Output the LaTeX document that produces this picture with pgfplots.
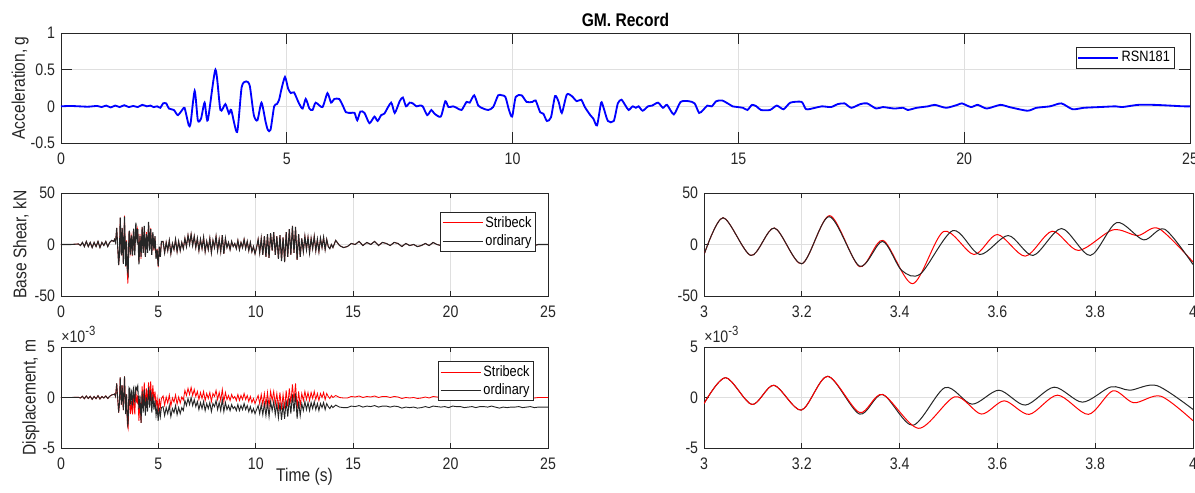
\documentclass[border=0pt]{standalone}
\usepackage{fontspec}
\setmainfont{Liberation Sans}[FakeStretch=0.85]
\usepackage{pgfplots}
\usepackage{pgfplotstable}
\pgfplotsset{compat=1.18}

\definecolor{axgray}{RGB}{38,38,38}
\definecolor{gridgray}{RGB}{223,223,223}

% ground motion record, acceleration in g
\pgfplotstableread{
t a
0.0 0
0.2 0.005
0.4 0
0.6 -0.005
0.8 0.005
0.9 -0.01
1.0 0.01
1.1 -0.015
1.2 0.01
1.3 -0.01
1.4 0.015
1.5 -0.01
1.6 0.005
1.7 -0.01
1.8 0.02
1.9 0.0
1.98 0.01
2.05 -0.01
2.13 0.0
2.2 -0.02
2.26 0.04
2.33 0.04
2.39 -0.03
2.5 -0.05
2.59 -0.12
2.72 -0.02
2.75 -0.05
2.83 -0.26
2.87 -0.23
2.96 0.21
3.03 -0.19
3.1 -0.17
3.18 0.05
3.25 -0.19
3.42 0.5
3.53 -0.05
3.64 0.03
3.72 -0.1
3.77 -0.05
3.9 -0.35
4.0 0.26
4.1 0.34
4.18 0.28
4.27 -0.12
4.35 -0.19
4.44 0.05
4.53 -0.21
4.58 -0.32
4.64 -0.32
4.72 0
4.78 0.03
4.83 0.09
4.88 0.23
4.96 0.4
5.03 0.24
5.09 0.18
5.16 0.19
5.27 0.04
5.35 -0.03
5.42 0.1
5.5 -0.03
5.57 -0.05
5.64 0.05
5.79 -0.01
5.9 0.18
5.98 0.05
6.05 0.1
6.16 0.1
6.24 0.01
6.31 -0.08
6.42 -0.09
6.5 -0.09
6.56 -0.19
6.63 -0.07
6.72 -0.09
6.83 -0.23
6.94 -0.14
7.01 -0.2
7.09 -0.12
7.16 -0.1
7.31 0.05
7.39 -0.09
7.5 0.07
7.57 0.12
7.64 0
7.72 0.05
7.79 0.04
7.87 0
7.94 0.01
8.01 0
8.11 -0.12
8.2 -0.05
8.27 -0.1
8.41 -0.14
8.51 0.07
8.58 -0.01
8.68 0
8.76 -0.02
8.87 -0.05
8.98 0.06
9.05 0.05
9.15 0.15
9.24 0.01
9.35 -0.03
9.46 -0.05
9.57 -0.01
9.68 0.15
9.76 0.15
9.84 0.13
9.92 -0.05
9.99 -0.14
10.07 0.13
10.2 0.15
10.31 0.06
10.44 0.06
10.51 0.08
10.61 -0.08
10.68 -0.1
10.76 -0.2
10.85 -0.15
10.94 0.14
11.02 0.06
11.09 -0.09
11.2 0.16
11.31 0.14
11.42 0.07
11.52 0.09
11.6 -0.01
11.72 -0.12
11.79 -0.17
11.87 -0.26
11.96 0.05
12.01 -0.01
12.11 -0.2
12.24 -0.2
12.33 0.04
12.41 0.09
12.5 0.01
12.57 -0.05
12.66 0
12.73 -0.02
12.79 0
12.88 -0.06
13.0 0
13.09 0.01
13.22 0.05
13.33 -0.02
13.42 0.02
13.57 -0.11
13.72 0.06
13.9 0.07
14.03 0.04
14.13 -0.09
14.22 -0.05
14.31 0.01
14.41 0
14.51 0.07
14.64 0.08
14.79 0.03
14.87 0
15.1 -0.02
15.2 -0.05
15.3 0.02
15.4 0
15.5 -0.05
15.7 -0.05
15.85 0.01
16.0 -0.04
16.15 0.05
16.4 0.06
16.5 -0.04
16.7 -0.02
16.85 0
17.05 -0.01
17.2 0.03
17.35 0.04
17.5 -0.02
17.7 0.03
17.85 0.04
18.05 -0.03
18.2 -0.01
18.45 -0.03
18.65 -0.02
18.75 -0.05
18.95 -0.02
19.2 0
19.35 0.02
19.6 -0.02
19.85 0.02
19.95 0.04
20.15 -0.01
20.3 0.02
20.5 -0.03
20.8 0.02
21.0 -0.01
21.4 -0.06
21.6 -0.02
21.9 0
22.15 0.04
22.4 -0.04
22.65 -0.02
23.0 -0.01
23.35 0
23.5 -0.01
23.85 0.02
24.2 0.02
24.55 0.01
24.85 0
25.0 0
}\accdata

% base shear (kN) and displacement (x1e-3 m), ordinary (k) and Stribeck (s)
\pgfplotstableread{
t Fk Fs Dk Ds
0.0 0 0 0 0
0.5 0 0 0 0
0.9 0.5 0.5 0.02 0.02
1.0 -1 -1 -0.05 -0.05
1.1 2 2 0.12 0.12
1.2 -2 -2 -0.12 -0.12
1.3 3 3 0.15 0.15
1.4 -2 -2 -0.1 -0.1
1.5 2 2 0.12 0.12
1.6 -3 -3 -0.18 -0.18
1.7 2 2 0.1 0.1
1.8 -2 -2 -0.12 -0.12
1.9 3 3 0.18 0.18
2.0 -3 -3 -0.15 -0.15
2.1 2 2 0.1 0.1
2.2 -1 -1 -0.05 -0.05
2.3 3 3 0.15 0.15
2.4 -2 -2 -0.1 -0.1
2.5 2 2 0.12 0.12
2.6 4 4 0.25 0.25
2.7 3 3 0.3 0.3
2.75 5 5 0.35 0.35
2.8 2 2 0.1 0.1
2.86 16 16 1.4 1.4
2.96 -20 -20 -1.5 -1.5
3.00 -10 -10 -0.6 -0.6
3.04 26 26 2.0 2.0
3.10 -10.6 -10.6 -0.7 -0.7
3.14 16 16 1.2 1.2
3.20 -18.7 -18.7 -1.25 -1.25
3.26 27 28 2.1 2.1
3.32 -21 -21.5 -1.64 -1.48
3.365 3 4 0.3 0.3
3.405 -25 -30 -2.2 -2.6
3.43 -27 -38 -2.75 -2.9
3.445 -28.4 -35 -2.6 -3.05
3.49 10 12.6 0.98 -0.3
3.51 13.5 10 0.9 0.07
3.55 -5 -9.7 -0.66 -1.2
3.565 -9.7 -8 -0.6 -1.64
3.60 5 9.7 0.72 -0.8
3.62 8.7 8 0.6 -0.33
3.657 -5 -11.3 -0.75 -1.4
3.673 -10.6 -9 -0.6 -1.67
3.712 8 12.9 0.9 0.0
3.731 15.5 10 1.0 0.23
3.766 -3 -5.8 -0.3 -1.2
3.79 -10.6 -4 -0.46 -1.67
3.836 18 14.2 1.0 0.66
3.844 21.3 14 1.05 0.6
3.887 6 8.7 0.75 -0.5
3.899 4.5 9 0.72 -0.52
3.93 12 15.5 1.1 0.13
3.942 14.8 14 1.18 0.1
4.00 -19.4 -17 -1.18 -2.3
4.055 8 10 0.2 -0.4
4.11 -12 -14 -2.5 -2.5
4.165 17 17 0.6 1.1
4.22 -8 -6 -1.5 -0.7
4.275 18 16 0.8 1.5
4.33 -12 -12 -1.8 -0.9
4.385 10 12 0.0 0.9
4.44 -8 -6 -1.4 -0.5
4.495 22 21 1.0 1.5
4.55 -6 -4 -1.0 -0.1
4.605 15 16 0.7 1.6
4.66 -10 -8 -1.5 -0.6
4.715 12 10 0.3 1.2
4.77 -5 -6 -1.2 -0.3
4.825 8 7 -0.3 0.6
4.88 -14 -12 -1.8 -0.9
4.935 -5 -4 -1.0 -0.1
4.99 -21 -22 -2.3 -1.5
5.045 -2 -3 -1.0 -0.1
5.10 -12 -12 -1.9 -1.0
5.155 3 2 -1.0 -0.1
5.24 3 3 -0.9 0.15
5.32 -8 -8 -1.8 -0.75
5.40 2 2 -1.0 0.05
5.48 -6 -6 -1.6 -0.55
5.56 4 4 -0.8 0.25
5.64 -9 -9 -1.9 -0.85
5.72 1 1 -1.1 -0.05
5.80 -5 -5 -1.5 -0.45
5.88 5 5 -0.8 0.25
5.96 -7 -7 -1.7 -0.65
6.04 3 3 -1.0 0.05
6.12 -6 -6 -1.6 -0.55
6.20 2 2 -1.0 0.05
6.28 -4 -4 -1.3 -0.25
6.36 6 6 -0.3 0.7
6.44 -2 -2 -0.8 0.2
6.52 9 9 -0.1 0.9
6.60 0 0 -0.7 0.3
6.68 10 10 0.0 1.0
6.76 -1 -1 -0.8 0.2
6.84 8 8 -0.2 0.8
6.92 -3 -3 -0.9 0.1
7.00 6 6 -0.4 0.6
7.08 -6 -6 -1.2 -0.2
7.16 5 5 -0.5 0.5
7.24 -4 -4 -1.1 -0.1
7.32 7 7 -0.4 0.6
7.40 -7 -7 -1.3 -0.3
7.48 3 3 -0.6 0.4
7.56 -5 -5 -1.1 -0.1
7.64 6 6 -0.5 0.5
7.72 -8 -8 -1.4 -0.4
7.80 4 4 -0.6 0.4
7.88 -3 -3 -0.9 0.1
7.96 8 8 -0.3 0.7
8.04 -6 -6 -1.2 -0.2
8.12 5 5 -0.5 0.5
8.20 -7 -7 -1.3 -0.3
8.28 9 9 -0.2 0.8
8.36 -9 -9 -1.4 -0.4
8.44 6 6 -0.5 0.5
8.52 -3 -3 -1.2 -0.2
8.60 2 2 -0.8 0.2
8.68 -5 -5 -1.3 -0.3
8.76 3 3 -0.7 0.3
8.84 -2 -2 -1.1 -0.1
8.92 1 1 -0.9 0.1
9.00 -4 -4 -1.3 -0.3
9.08 4 4 -0.7 0.3
9.16 -5 -5 -1.3 -0.3
9.24 2 2 -0.8 0.2
9.32 -3 -3 -1.2 -0.2
9.40 5 5 -0.6 0.4
9.48 -4 -4 -1.2 -0.2
9.56 3 3 -0.8 0.2
9.64 -6 -6 -1.4 -0.4
9.72 2 2 -0.9 0.1
9.80 -7 -7 -1.5 -0.5
9.88 -2 -2 -1.1 -0.1
9.96 -9 -9 -1.6 -0.6
10.04 -3 -3 -1.2 -0.2
10.12 5 5 -0.8 0.2
10.20 -8 -8 -1.6 -0.6
10.28 6 6 -0.7 0.3
10.36 -10 -10 -1.7 -0.7
10.44 8 8 -0.6 0.4
10.52 -12 -12 -1.8 -0.8
10.60 10 10 -0.5 0.5
10.68 -13 -13 -1.9 -0.9
10.76 11 11 -0.4 0.6
10.84 -6 -6 -1.3 -0.3
10.92 12 12 -0.4 0.6
11.00 -10 -10 -1.7 -0.7
11.08 8 8 -0.6 0.4
11.16 -14 -14 -2.0 -1.0
11.24 9 9 -0.5 0.5
11.32 -16 -16 -2.2 -1.2
11.40 7 7 -0.7 0.3
11.48 -17 -17 -2.1 -1.1
11.56 12 12 -0.3 0.7
11.64 -12 -12 -1.9 -0.9
11.72 15 15 -0.1 0.9
11.80 -10 -10 -1.6 -0.6
11.88 18 18 0.3 1.3
11.96 -8 -8 -1.4 -0.4
12.04 17 17 0.4 1.4
12.12 -15 -15 -2.1 -1.1
12.20 10 10 -0.4 0.6
12.28 -12 -12 -1.8 -0.8
12.36 6 6 -0.6 0.4
12.44 -7 -7 -1.3 -0.3
12.52 8 8 -0.4 0.6
12.60 -5 -5 -1.2 -0.2
12.68 7 7 -0.5 0.5
12.76 -8 -8 -1.3 -0.3
12.84 6 6 -0.5 0.5
12.92 -4 -4 -1.1 -0.1
13.00 8 8 -0.4 0.6
13.08 -6 -6 -1.2 -0.2
13.16 5 5 -0.6 0.4
13.24 -7 -7 -1.3 -0.3
13.32 6 6 -0.6 0.4
13.40 -3 -3 -1.0 0.0
13.48 7 7 -0.5 0.5
13.56 -5 -5 -1.2 -0.2
13.64 5 5 -0.6 0.4
13.72 -2 -2 -0.9 0.1
13.80 -4 -4 -1.1 -0.1
13.88 0 0 -0.8 0.2
13.96 -3 -3 -1.0 0.0
14.1 4 4 -0.75 0.2
14.3 -1 -1 -0.95 0.0
14.5 -3 -3 -1.0 -0.05
14.7 -2 -2 -1.0 -0.05
14.9 1 1 -0.85 0.1
15.1 0 0 -0.9 0.05
15.3 3 3 -0.8 0.15
15.5 -1 -1 -0.95 0.0
15.7 2 2 -0.85 0.1
15.9 0 0 -0.9 0.05
16.1 3 3 -0.8 0.15
16.3 -1 -1 -0.95 0.0
16.5 2 2 -0.85 0.1
16.7 1 1 -0.85 0.1
16.9 -1 -1 -0.95 0.0
17.1 2 2 -0.85 0.1
17.3 1 1 -0.9 0.05
17.5 -2 -2 -1.05 -0.1
17.7 1 1 -0.95 0.0
17.9 -1 -1 -1.0 -0.05
18.1 0 0 -0.95 0.0
18.3 -2 -2 -1.05 -0.1
18.5 -1 -1 -1.0 -0.05
18.7 1 1 -0.9 0.05
18.9 -1 -1 -1.0 -0.05
19.1 2 2 -0.85 0.1
19.3 0 0 -0.9 0.05
19.5 -1 -1 -0.95 0.0
19.7 1 1 -0.9 0.05
19.9 -1 -1 -1.0 -0.05
20.1 2 2 -0.85 0.1
20.3 0 0 -0.9 0.05
20.5 1 1 -0.9 0.05
20.7 -1 -1 -1.0 -0.05
20.9 0 0 -0.95 0.0
21.1 1 1 -0.9 0.05
21.3 -1 -1 -1.0 -0.05
21.5 1 1 -0.9 0.05
21.7 0 0 -0.9 0.05
21.9 -1 -1 -0.95 0.0
22.1 1 1 -0.85 0.1
22.3 -1 -1 -0.95 0.0
22.5 -2 -2 -1.05 -0.1
22.7 0 0 -0.95 0.0
22.9 -1 -1 -1.0 -0.05
23.1 1 1 -0.95 0.0
23.3 0 0 -0.95 0.0
23.5 1 1 -0.9 0.05
23.7 -1 -1 -1.0 -0.05
23.9 0 0 -0.95 0.0
24.1 1 1 -0.9 0.05
24.3 -1 -1 -1.0 -0.05
24.5 0 0 -0.95 0.0
24.7 0 0 -0.95 0.0
25.0 0 0 -0.95 0.0
}\leftdata

\pgfplotsset{
  matlab/.style={
    scale only axis,
    clip mode=individual,
    axis line style={axgray, line width=0.5pt},
    tick style={axgray, line width=0.5pt},
    tick align=inside,
    tick pos=both,
    grid=major,
    major grid style={gridgray, line width=0.5pt},
    tick label style={font=\fontsize{10}{12}\selectfont, text=axgray},
    label style={font=\fontsize{11}{13}\selectfont, text=axgray},
    /pgf/number format/assume math mode=true,
    xticklabel style={yshift=-2.6pt},
    legend cell align=left,
    legend style={draw=axgray, line width=0.4pt, fill=white,
      font=\fontsize{9}{10}\selectfont, inner sep=1pt,
      nodes={inner sep=1.4pt}},
  },
  redleg/.style={legend image code/.code={\draw[red, line width=0.6pt] (0pt,0pt) -- (24pt,0pt);}},
  blkleg/.style={legend image code/.code={\draw[black!85, line width=0.6pt] (0pt,0pt) -- (24pt,0pt);}},
  blueleg/.style={legend image code/.code={\draw[blue, line width=1.1pt] (0pt,0pt) -- (24pt,0pt);}},
}

\begin{document}
\begin{tikzpicture}
\useasboundingbox (0,0) rectangle (717pt,-295.8pt);

% ---- acceleration record ----
\begin{axis}[matlab, at={(36.6pt,-19.8pt)}, anchor=north west,
  width=677.4pt, height=66pt,
  xmin=0, xmax=25, ymin=-0.5, ymax=1,
  xtick={0,5,...,25}, ytick={-0.5,0,0.5,1}, yticklabels={-0.5,0,0.5,1},
  major tick length=6.6pt,
  ylabel={Acceleration, g},
  ylabel style={at={(axis description cs:-0.0363,0.5)}, anchor=center},
  title={GM. Record},
  title style={font=\bfseries\fontsize{11}{13}\selectfont, text=black,
    at={(axis description cs:0.5,1)}, anchor=base, yshift=-2pt},
  legend style={at={(axis description cs:0.986,0.873)}, anchor=north east}]
\addplot[blue, line width=1.1pt, smooth, tension=0.4, blueleg] table[x=t, y=a] {\accdata};
\legend{RSN181}
\end{axis}

% ---- base shear, full record ----
\begin{axis}[matlab, at={(36.6pt,-115.8pt)}, anchor=north west,
  width=292.2pt, height=61.8pt,
  xmin=0, xmax=25, ymin=-50, ymax=50,
  xtick={0,5,...,25}, ytick={-50,0,50},
  major tick length=2.9pt,
  ylabel={Base Shear, kN},
  ylabel style={at={(axis description cs:-0.0821,0.5)}, anchor=center},
  legend style={at={(axis description cs:0.975,0.816)}, anchor=north east}]
\addplot[red, line width=0.4pt, redleg] table[x=t, y=Fs] {\leftdata};
\addplot[black!85, line width=0.65pt, blkleg] table[x=t, y=Fk] {\leftdata};
\legend{Stribeck, ordinary}
\end{axis}

% ---- base shear, 3-4 s ----
\begin{axis}[matlab, at={(422.4pt,-115.8pt)}, anchor=north west,
  width=293.4pt, height=61.8pt,
  xmin=3, xmax=4, ymin=-50, ymax=50,
  xtick={3,3.2,3.4,3.6,3.8,4}, xticklabels={3,3.2,3.4,3.6,3.8,4},
  ytick={-50,0,50},
  major tick length=2.9pt]
\addplot[red, line width=0.6pt, smooth] coordinates {
(3.0,-10) (3.039,26) (3.096,-10.6) (3.144,16) (3.2,-18.7) (3.257,28)
(3.318,-21.5) (3.366,4) (3.427,-38) (3.49,12.6) (3.552,-9.7) (3.6,9.7)
(3.657,-11.3) (3.712,12.9) (3.766,-5.8) (3.836,14.2) (3.887,8.7)
(3.93,15.5) (4.0,-17)};
\addplot[black!85, line width=0.6pt, smooth] coordinates {
(3.0,-10) (3.039,26) (3.096,-10.6) (3.144,16) (3.2,-18.7) (3.256,27)
(3.318,-21) (3.365,3) (3.404,-25) (3.443,-28.4) (3.509,13.5) (3.564,-9.7)
(3.622,8.7) (3.673,-10.6) (3.731,15.5) (3.79,-10.6) (3.844,21.3)
(3.899,4.5) (3.942,14.8) (4.0,-19.4)};
\end{axis}

% ---- displacement, full record ----
\begin{axis}[matlab, at={(36.6pt,-208.2pt)}, anchor=north west,
  width=292.2pt, height=60.6pt,
  xmin=0, xmax=25, ymin=-5, ymax=5,
  xtick={0,5,...,25}, ytick={-5,0,5},
  major tick length=2.9pt,
  xlabel={Time (s)},
  xlabel style={at={(axis description cs:0.5,-0.287)}, anchor=center},
  ylabel={Displacement, m},
  ylabel style={at={(axis description cs:-0.0616,0.5)}, anchor=center},
  legend style={at={(axis description cs:0.971,0.861)}, anchor=north east}]
\addplot[red, line width=0.5pt, redleg] table[x=t, y=Ds] {\leftdata};
\addplot[black!85, line width=0.55pt, blkleg] table[x=t, y=Dk] {\leftdata};
\legend{Stribeck, ordinary}
\node[anchor=south west, inner sep=0pt, text=axgray,
  font=\fontsize{10}{12}\selectfont] at (axis description cs:0,1)
  [yshift=2.4pt] {×10\raisebox{0.75ex}{\fontsize{8}{8}\selectfont -3}};
\end{axis}

% ---- displacement, 3-4 s ----
\begin{axis}[matlab, at={(422.4pt,-208.2pt)}, anchor=north west,
  width=293.4pt, height=60.6pt,
  xmin=3, xmax=4, ymin=-5, ymax=5,
  xtick={3,3.2,3.4,3.6,3.8,4}, xticklabels={3,3.2,3.4,3.6,3.8,4},
  ytick={-5,0,5},
  major tick length=2.9pt]
\addplot[black!85, line width=0.6pt, smooth] coordinates {
(3.0,-0.6) (3.044,1.97) (3.098,-0.69) (3.143,1.21) (3.199,-1.25) (3.253,2.1)
(3.318,-1.64) (3.365,0.3) (3.427,-2.75) (3.493,0.98) (3.548,-0.66)
(3.603,0.72) (3.657,-0.75) (3.716,1.02) (3.774,-0.46) (3.832,1.05)
(3.871,0.72) (3.926,1.18) (4.0,-1.18)};
\addplot[red, line width=0.6pt, smooth] coordinates {
(3.0,-0.6) (3.044,1.97) (3.098,-0.69) (3.143,1.21) (3.199,-1.25) (3.253,2.1)
(3.318,-1.48) (3.365,0.3) (3.439,-3.05) (3.513,0.07) (3.567,-1.64)
(3.614,-0.33) (3.665,-1.67) (3.723,0.23) (3.786,-1.67) (3.836,0.66)
(3.879,-0.52) (3.934,0.13) (4.0,-2.3)};
\node[anchor=south west, inner sep=0pt, text=axgray,
  font=\fontsize{10}{12}\selectfont] at (axis description cs:0,1)
  [yshift=2.4pt] {×10\raisebox{0.75ex}{\fontsize{8}{8}\selectfont -3}};
\end{axis}
\end{tikzpicture}
\end{document}
